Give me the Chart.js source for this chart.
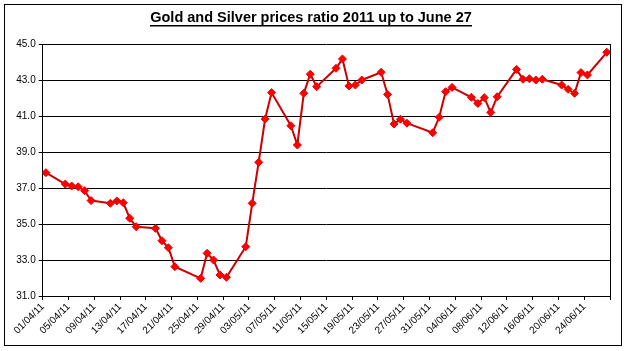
<!DOCTYPE html>
<html>
<head>
<meta charset="utf-8">
<script src="https://cdn.jsdelivr.net/npm/chart.js@4"></script>
<style>
html,body{margin:0;padding:0;background:#fff;}
#wrap{position:relative;width:626px;height:351px;}
</style>
</head>
<body>
<div id="wrap"><canvas id="c" width="626" height="351"></canvas></div>
<script>
const titleText = "Gold and Silver prices ratio 2011 up to June 27";
const dates = [
"01/04/11","04/04/11","05/04/11","06/04/11","07/04/11","08/04/11",
"11/04/11","12/04/11","13/04/11","14/04/11","15/04/11",
"18/04/11","19/04/11","20/04/11","21/04/11",
"25/04/11","26/04/11","27/04/11","28/04/11","29/04/11",
"02/05/11","03/05/11","04/05/11","05/05/11","06/05/11",
"09/05/11","10/05/11","11/05/11","12/05/11","13/05/11",
"16/05/11","17/05/11","18/05/11","19/05/11","20/05/11",
"23/05/11","24/05/11","25/05/11","26/05/11","27/05/11",
"31/05/11","01/06/11","02/06/11","03/06/11",
"06/06/11","07/06/11","08/06/11","09/06/11","10/06/11",
"13/06/11","14/06/11","15/06/11","16/06/11","17/06/11",
"20/06/11","21/06/11","22/06/11","23/06/11","24/06/11",
"27/06/11"];
const ratio = [
37.85,37.22,37.11,37.07,36.85,36.30,
36.15,36.28,36.18,35.32,34.85,
34.76,34.07,33.68,32.63,
31.98,33.37,33.00,32.17,32.04,
33.74,36.15,38.43,40.83,42.30,
40.46,39.39,42.26,43.32,42.63,
43.65,44.17,42.67,42.72,43.00,
43.43,42.20,40.56,40.82,40.60,
40.07,40.93,42.35,42.59,
42.04,41.70,42.02,41.20,42.07,
43.59,43.04,43.07,43.00,43.04,
42.72,42.48,42.26,43.41,43.28,
44.54];
const yTicks = [31,33,35,37,39,41,43,45];
const startDate = "01/04/11";
const endDate = "28/06/11";

function toDay(s){
  const [d,m,y] = s.split("/").map(Number);
  return Date.UTC(2000+y, m-1, d)/86400000;
}
const day0 = toDay(startDate);
const dayEnd = toDay(endDate) - day0;
function dayLabel(n){
  const t = new Date((day0+n)*86400000);
  const dd = String(t.getUTCDate()).padStart(2,"0");
  const mm = String(t.getUTCMonth()+1).padStart(2,"0");
  const yy = String(t.getUTCFullYear()%100).padStart(2,"0");
  return dd+"/"+mm+"/"+yy;
}
const points = dates.map((d,i)=>({x: toDay(d)-day0+0.5, y: ratio[i]}));

const frame = {
  id:'frame',
  beforeDraw(chart){
    const ctx = chart.ctx;
    ctx.save();
    ctx.fillStyle = '#fff';
    ctx.fillRect(0,0,chart.width,chart.height);
    ctx.restore();
  },
  afterDraw(chart){
    const ctx = chart.ctx, a = chart.chartArea;
    ctx.save();
    ctx.strokeStyle = '#000';
    ctx.lineWidth = 1;
    ctx.strokeRect(4.5,4.5,617,341);
    ctx.beginPath();
    ctx.moveTo(Math.round(a.right)+0.5, a.top);
    ctx.lineTo(Math.round(a.right)+0.5, a.bottom);
    ctx.stroke();
    ctx.font = 'bold 14.5px "Liberation Sans", Arial, sans-serif';
    ctx.fillStyle = '#000';
    ctx.textAlign = 'center';
    ctx.textBaseline = 'alphabetic';
    const cx = 311, by = 22;
    ctx.fillText(titleText, cx, by);
    const w = ctx.measureText(titleText).width;
    ctx.fillRect(Math.round(cx-w/2), by+3, Math.round(w), 1.5);
    ctx.restore();
  }
};

new Chart(document.getElementById('c'), {
  type:'line',
  data:{
    datasets:[{
      data: points,
      borderColor:'#CC0000',
      borderWidth:2,
      backgroundColor:'#FF0000',
      pointBackgroundColor:'#FF0000',
      pointBorderColor:'#EE0000',
      pointStyle:'rectRot',
      pointRadius:4,
      pointBorderWidth:1,
      tension:0,
      fill:false
    }]
  },
  options:{
    responsive:false,
    animation:false,
    devicePixelRatio:1,
    layout:{padding:{left:0,right:16,top:44,bottom:0}},
    plugins:{legend:{display:false},tooltip:{enabled:false},title:{display:false}},
    scales:{
      x:{
        type:'linear',
        min:0, max:dayEnd,
        afterBuildTicks(s){ const t=[]; for(let v=0; v<=dayEnd; v+=4) t.push({value:v}); s.ticks=t; },
        afterFit(s){ s.height = 55; },
        ticks:{
          autoSkip:false,
          minRotation:45, maxRotation:45,
          color:'#000',
          font:{family:'"Liberation Sans", Arial, sans-serif', size:10},
          padding:1,
          callback(v){ return v>=dayEnd ? '' : dayLabel(v); }
        },
        grid:{drawOnChartArea:false, drawTicks:true, tickLength:4, color:'#000'},
        border:{color:'#000', width:1}
      },
      y:{
        min:31, max:45,
        afterBuildTicks(s){ s.ticks = yTicks.map(v=>({value:v})); },
        afterFit(s){ s.width = 42.7; },
        ticks:{
          color:'#000',
          font:{family:'"Liberation Sans", Arial, sans-serif', size:10},
          padding:3,
          callback(v){ return Number(v).toFixed(1); }
        },
        grid:{color:'#000', lineWidth:1, tickLength:4},
        border:{color:'#000', width:1}
      }
    }
  },
  plugins:[frame]
});
</script>
</body>
</html>
